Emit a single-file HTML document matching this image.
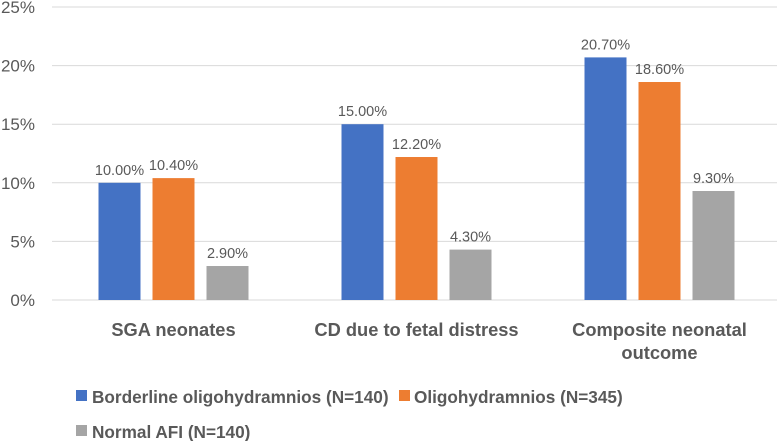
<!DOCTYPE html>
<html><head><meta charset="utf-8"><style>
body{margin:0;background:#fff;}
svg text{font-family:"Liberation Sans",sans-serif;fill:#595959;}
</style></head><body>
<svg width="777" height="441">
<g id="grid"></g><g id="bars"></g><g id="labels"></g>
<g>
<rect x="76" y="390" width="11" height="11" fill="#4472c4"/>
<text x="92" y="403" font-size="17.2" font-weight="bold">Borderline oligohydramnios (N=140)</text>
<rect x="399" y="390" width="11" height="11" fill="#ed7d31"/>
<text x="414" y="403" font-size="17.2" font-weight="bold">Oligohydramnios (N=345)</text>
<rect x="76" y="425" width="11" height="11" fill="#a5a5a5"/>
<text x="92" y="438" font-size="17.2" font-weight="bold">Normal AFI (N=140)</text>
</g>
</svg>
<script>
const categories=[["SGA neonates"],["CD due to fetal distress"],["Composite neonatal","outcome"]];
const borderline=[10.0,15.0,20.7];
const oligo=[10.4,12.2,18.6];
const normal=[2.9,4.3,9.3];
const ticks=[0,5,10,15,20,25];
const colors=["#4472c4","#ed7d31","#a5a5a5"];
const ns="http://www.w3.org/2000/svg";
const x0=52,groupW=243,y0=300,pxPer=11.72,barW=42,barStep=54;
const y=v=>y0-v*pxPer;
function mk(tag,attrs,parent,txt){const e=document.createElementNS(ns,tag);for(const k in attrs)e.setAttribute(k,attrs[k]);if(txt!==undefined)e.textContent=txt;document.getElementById(parent).appendChild(e);return e;}
ticks.forEach(t=>{
 const l=mk("line",{x1:x0,x2:777,y1:y(t),y2:y(t),stroke:"#d9d9d9","stroke-width":1},"grid");
 
 
 const tx=mk("text",{x:35,y:y(t)+6,"text-anchor":"end","font-size":"17"},"grid",t+"%");
 
 
});
const series=[borderline,oligo,normal];
categories.forEach((c,i)=>{
 const cx=x0+groupW*(i+0.5);
 series.forEach((s,j)=>{
  const bx=cx-barW/2+(j-1)*barStep;
  const r=mk("rect",{x:bx,y:y(s[i]),width:barW,height:y0-y(s[i]),fill:colors[j]},"bars");
  
  
  const t=mk("text",{x:bx+barW/2,y:y(s[i])-8,"text-anchor":"middle","font-size":"14.5"},"labels",s[i].toFixed(2)+"%");
  
  
 });
 c.forEach((line,k)=>{
  const t=mk("text",{x:cx,y:336+k*23,"text-anchor":"middle","font-size":"18.3","font-weight":"bold"},"labels",line);
  
  
 });
});
</script>
</body></html>
